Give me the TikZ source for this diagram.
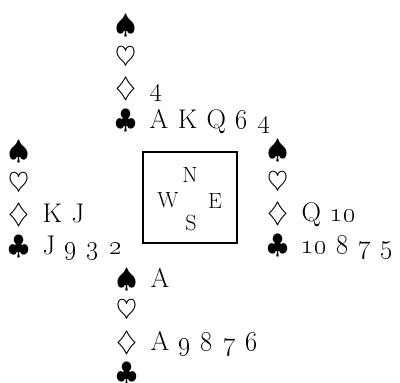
\documentclass[tikz,border=0pt]{standalone}
\usepackage{fix-cm}
\newcommand{\os}[1]{\oldstylenums{#1}}
\newcommand{\sg}{\hspace{0.5em}}
\newcommand{\cg}{\hspace{0.35em}}

\begin{document}
\begin{tikzpicture}[x=1pt, y=-1pt,
        hand/.style={anchor=north west, inner sep=0pt, align=left,
            font=\fontsize{27}{31.5}\selectfont},
        seat/.style={inner sep=0pt, font=\fontsize{22}{24}\selectfont}]
        \useasboundingbox (0,0) rectangle (400,383);

        \node[hand] (north) at (115,15) {
            $\spadesuit$\\
            $\heartsuit$\\
            $\diamondsuit$\sg\os{4}\\
            $\clubsuit$\sg A\cg K\cg Q\cg\os{6}\cg\os{4}
        };

        \node[hand] (west) at (8,141) {
            $\spadesuit$\\
            $\heartsuit$\\
            $\diamondsuit$\sg K\cg J\\
            $\clubsuit$\sg J\cg\os{9}\cg\os{3}\cg\os{2}
        };

        \node[hand] (east) at (267,140) {
            $\spadesuit$\\
            $\heartsuit$\\
            $\diamondsuit$\sg Q\cg\os{10}\\
            $\clubsuit$\sg\os{10}\cg\os{8}\cg\os{7}\cg\os{5}
        };

        \node[hand] (south) at (116,268) {
            $\spadesuit$\sg A\\
            $\heartsuit$\\
            $\diamondsuit$\sg A\cg\os{9}\cg\os{8}\cg\os{7}\cg\os{6}\\
            $\clubsuit$
        };

        % the table
        \node[draw, line width=2.5pt, minimum width=94pt, minimum height=91pt]
            (table) at (190,197.5) {};
        \node[seat] (n) at (190,175) {N};
        \node[seat] (w) at (168,200) {W};
        \node[seat] (e) at (215,201) {E};
        \node[seat] (s) at (191,223) {S};
    \end{tikzpicture}
\end{document}
